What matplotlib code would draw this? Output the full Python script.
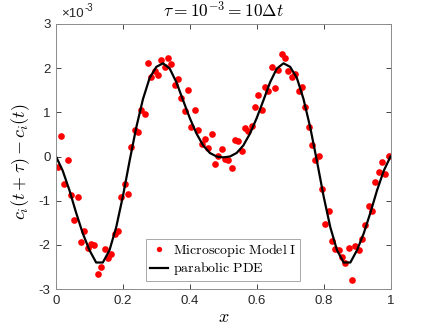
import numpy as np
import matplotlib
matplotlib.use("Agg")
import matplotlib.pyplot as plt

plt.rcParams['mathtext.fontset'] = 'cm'
plt.rcParams['font.family'] = ['Liberation Sans', 'DejaVu Sans']
plt.rcParams['axes.unicode_minus'] = False

# microscopic model samples (units of 1e-3), one per cell centre
x_model = np.linspace(0.005, 0.995, 100)
y_model = [-0.23, 0.47, -0.62, -0.09, -0.88, -1.43, -0.92, -1.93, -1.69, -2.08,
           -1.97, -2.00, -2.66, -2.51, -2.09, -2.29, -2.21, -1.75, -1.68, -0.91,
           -0.62, -0.86, 0.21, 0.60, 0.55, 1.06, 0.96, 2.12, 1.81, 1.94,
           1.85, 2.18, 2.03, 2.22, 2.09, 1.62, 1.75, 1.33, 1.03, 1.51,
           0.67, 1.05, 0.60, 0.28, 0.40, 0.20, 0.52, -0.17, 0.01, 0.16,
           -0.06, -0.09, -0.25, 0.37, 0.36, 0.13, 0.64, 0.58, 0.69, 1.13,
           1.39, 1.05, 1.58, 1.49, 2.03, 1.56, 1.96, 2.32, 2.22, 1.94,
           1.79, 1.87, 1.49, 1.58, 1.13, 0.67, 0.25, -0.09, 0.01, -0.74,
           -1.52, -1.23, -1.91, -2.09, -2.12, -2.27, -2.40, -2.07, -2.80, -2.02,
           -2.12, -1.87, -1.56, -1.12, -1.23, -0.58, -0.36, -0.13, -0.40, 0.01]

# parabolic PDE solution (units of 1e-3)
x_pde = np.linspace(0, 1, 51)
y_pde = [0.00, -0.32, -0.76, -1.27, -1.74, -2.12, -2.40, -2.40, -2.12, -1.60,
         -0.90, -0.10, 0.66, 1.30, 1.78, 2.03, 2.11, 1.99, 1.68, 1.27,
         0.87, 0.52, 0.25, 0.08, 0.00, -0.02, 0.00, 0.08, 0.25, 0.52,
         0.87, 1.27, 1.68, 1.99, 2.11, 2.03, 1.78, 1.30, 0.66, -0.10,
         -0.90, -1.60, -2.12, -2.40, -2.40, -2.12, -1.74, -1.27, -0.76, -0.32,
         0.00]

x_ticks = [0, 0.2, 0.4, 0.6, 0.8, 1]
x_ticklabels = ['0', '0.2', '0.4', '0.6', '0.8', '1']
y_ticks = [-3, -2, -1, 0, 1, 2, 3]

fig = plt.figure(figsize=(4.32, 3.34), dpi=100)
ax = fig.add_axes([56 / 432, 45 / 334, 334.5 / 432, 265 / 334])

ax.plot(x_model, y_model, 'o', color='#ff0000', ms=4.8, mec='none',
        label=r'$\mathrm{Microscopic\ Model\ I}$')
ax.plot(x_pde, y_pde, '-', color='black', lw=1.6,
        label=r'$\mathrm{parabolic\ PDE}$')

ax.set_xlim(0, 1)
ax.set_ylim(-3, 3)
ax.set_xticks(x_ticks)
ax.set_xticklabels(x_ticklabels)
ax.set_yticks(y_ticks)
ax.tick_params(direction='in', length=3.5, width=0.6, top=True, right=True,
               labelsize=9.5, colors='#262626', pad=4)
for s in ax.spines.values():
    s.set_color('#8c8c8c')
    s.set_linewidth(0.7)

# MATLAB style exponent label
ax.annotate('\u00d710', xy=(0, 1), xycoords='axes fraction', xytext=(4, 3),
            textcoords='offset points', fontsize=9.5, color='#262626',
            ha='left', va='bottom')
ax.annotate('-3', xy=(0, 1), xycoords='axes fraction', xytext=(20.5, 8),
            textcoords='offset points', fontsize=7, color='#262626',
            ha='left', va='bottom')

ax.set_title(r'$\tau = 10^{-3} = 10\Delta t$', fontsize=12.5, pad=5)
ax.set_xlabel(r'$x$', fontsize=13, labelpad=2)
ax.set_ylabel(r'$c_i(t+\tau) - c_i(t)$', fontsize=13)
ax.yaxis.set_label_coords(-0.072, 0.48)

leg = ax.legend(loc='lower center', bbox_to_anchor=(0.5, 0.02), fontsize=10,
                frameon=True, fancybox=False, framealpha=1, edgecolor='#9a9a9a',
                handlelength=1.3, handletextpad=0.4, borderpad=0.25,
                labelspacing=0.1, borderaxespad=0.2, markerscale=0.8)
leg.get_frame().set_linewidth(0.6)

fig.savefig('out.png', dpi=100)
